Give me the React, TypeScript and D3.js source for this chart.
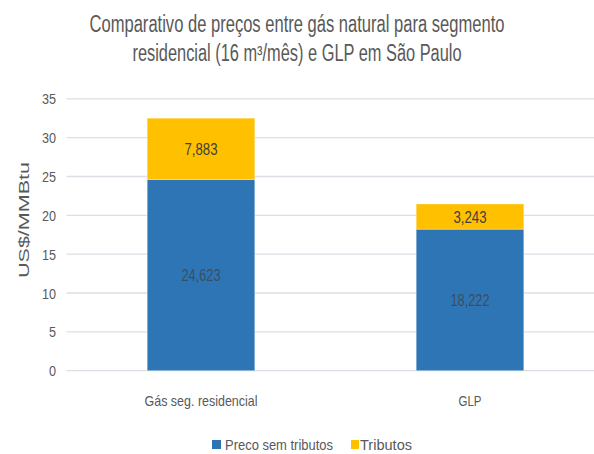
import React from "react";
import * as d3 from "d3";

const categories = ["Gás seg. residencial", "GLP"];
const precoSemTributos = [24.623, 18.222];
const tributos = [7.883, 3.243];
const valueLabelsPreco = ["24,623", "18,222"];
const valueLabelsTributos = ["7,883", "3,243"];
const seriesNames = ["Preco sem tributos", "Tributos"];
const yTicks = [0, 5, 10, 15, 20, 25, 30, 35];
const titleLines = [
  "Comparativo de preços entre gás natural para segmento",
  "residencial (16 m³/mês) e GLP em São Paulo",
];
const yAxisTitle = "US$/MMBtu";

const W = 594;
const H = 454;
const BLUE = "#2E75B6";
const YELLOW = "#FFC000";
const TEXT = "#595959";
const FONT = "'Liberation Sans', Arial, sans-serif";
const NARROW_RATIO = 0.8;

// approximate width of narrow text: Liberation Sans average widths scaled
function narrowLen(s: string, size: number) {
  let w = 0;
  for (const ch of s) {
    if (/[0-9]/.test(ch)) w += 0.556;
    else if (ch === "," || ch === "." || ch === " ") w += 0.278;
    else if (/[ilj]/.test(ch)) w += 0.222;
    else if (/[frt]/.test(ch)) w += 0.3;
    else if (/[A-Z]/.test(ch)) w += 0.667;
    else if (/[mw]/.test(ch)) w += 0.833;
    else w += 0.556;
  }
  return w * size * NARROW_RATIO;
}

export default function App() {
  const x = d3
    .scaleBand<string>()
    .domain(categories)
    .range([66.5, 604.5])
    .paddingInner(0.6)
    .paddingOuter(0.3);
  const y = d3.scaleLinear().domain([0, 35]).range([370.7, 98.8]);

  const stackData = categories.map((c, i) => ({
    cat: c,
    preco: precoSemTributos[i],
    trib: tributos[i],
  }));
  const stack = d3.stack<any>().keys(["preco", "trib"])(stackData);
  const colors = [BLUE, YELLOW];
  const labels = [valueLabelsPreco, valueLabelsTributos];

  return (
    <svg
      width={W}
      height={H}
      style={{ position: "absolute", left: 0, top: 0, background: "#fff" }}
    >
      <rect width={W} height={H} fill="#fff" />
      {/* Title */}
      <text
        x={W / 2}
        y={32}
        textAnchor="middle"
        fill={TEXT}
        fontFamily={FONT}
        fontSize={23}
        textLength={415}
        lengthAdjust="spacingAndGlyphs"
      >
        {titleLines[0]}
      </text>
      <text
        x={W / 2}
        y={61}
        textAnchor="middle"
        fill={TEXT}
        fontFamily={FONT}
        fontSize={23}
        textLength={329}
        lengthAdjust="spacingAndGlyphs"
      >
        {titleLines[1]}
      </text>

      {/* Gridlines */}
      {yTicks.map((t) => (
        <line
          key={"g" + t}
          x1={66.5}
          x2={W}
          y1={y(t)}
          y2={y(t)}
          stroke="#DCDFE6"
          strokeWidth={1.3}
        />
      ))}
      {/* Tick labels */}
      {yTicks.map((t) => (
        <text
          key={"t" + t}
          x={56}
          y={y(t) + 5.5}
          textAnchor="end"
          fill={TEXT}
          fontFamily={FONT}
          fontSize={15}
          textLength={narrowLen(String(t), 15) * 1.05}
          lengthAdjust="spacingAndGlyphs"
        >
          {t}
        </text>
      ))}
      {/* Y axis title */}
      <text
        transform={`translate(29,220) rotate(-90)`}
        textAnchor="middle"
        fill={TEXT}
        fontFamily={FONT}
        fontSize={15.5}
        textLength={116}
        lengthAdjust="spacingAndGlyphs"
      >
        {yAxisTitle}
      </text>

      {/* Bars */}
      {stack.map((layer, li) =>
        layer.map((d, i) => (
          <rect
            key={li + "-" + i}
            x={x(categories[i])}
            y={y(d[1])}
            width={x.bandwidth()}
            height={y(d[0]) - y(d[1])}
            fill={colors[li]}
            stroke="#ffffff"
            strokeOpacity={0.35}
            strokeWidth={1}
          />
        ))
      )}
      {/* Value labels */}
      {stack.map((layer, li) =>
        layer.map((d, i) => (
          <text
            key={"v" + li + "-" + i}
            x={(x(categories[i]) as number) + x.bandwidth() / 2}
            y={(y(d[0]) + y(d[1])) / 2 + 6}
            textAnchor="middle"
            fill="#404040"
            fillOpacity={li === 0 ? 0.75 : 1}
            fontFamily={FONT}
            fontSize={16}
            textLength={labels[li][i].length === 6 ? 39 : 33}
            lengthAdjust="spacingAndGlyphs"
          >
            {labels[li][i]}
          </text>
        ))
      )}

      {/* Category labels */}
      {categories.map((c) => (
        <text
          key={"c" + c}
          x={(x(c) as number) + x.bandwidth() / 2}
          y={406}
          textAnchor="middle"
          fill={TEXT}
          fontFamily={FONT}
          fontSize={15}
          textLength={c.length > 5 ? 113 : 23}
          lengthAdjust="spacingAndGlyphs"
        >
          {c}
        </text>
      ))}

      {/* Legend */}
      <rect x={212} y={440} width={9} height={9} fill={BLUE} />
      <text
        x={225}
        y={449.5}
        fill={TEXT}
        fontFamily={FONT}
        fontSize={15}
        textLength={108}
        lengthAdjust="spacingAndGlyphs"
      >
        {seriesNames[0]}
      </text>
      <rect x={351} y={440} width={8} height={9} fill={YELLOW} />
      <text
        x={360}
        y={449.5}
        fill={TEXT}
        fontFamily={FONT}
        fontSize={15}
        textLength={52}
        lengthAdjust="spacingAndGlyphs"
      >
        {seriesNames[1]}
      </text>
    </svg>
  );
}
